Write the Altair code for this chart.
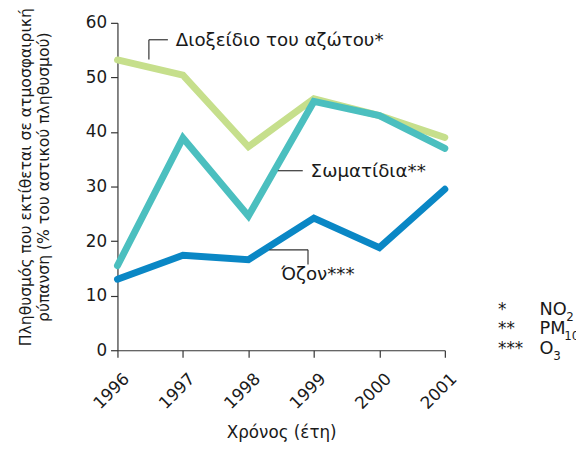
import altair as alt
import pandas as pd

years = [1996, 1997, 1998, 1999, 2000, 2001]
no2 = [53.2, 50.4, 37.3, 46.1, 43.0, 39.0]
pm10 = [15.5, 38.9, 24.6, 45.6, 43.0, 37.0]
o3 = [13.0, 17.4, 16.6, 24.2, 18.8, 29.5]
series_names = ["NO2", "PM10", "O3"]
series_colors = ["#c6df8c", "#4bbfbf", "#0a87c5"]

rows = []
for name, vals in zip(series_names, [no2, pm10, o3]):
    for y, v in zip(years, vals):
        rows.append({"year": y, "value": v, "series": name})
df = pd.DataFrame(rows)

FONT = "DejaVu Sans"
FS = 17

xscale = alt.Scale(domain=[1996, 2001], nice=False)
yscale = alt.Scale(domain=[0, 60], nice=False)

lines = alt.Chart(df).mark_line(strokeWidth=7, strokeCap="round", strokeJoin="miter", clip=False).encode(
    x=alt.X("year:Q", scale=xscale,
            axis=alt.Axis(values=years, format="d", labelAngle=-45, labelAlign="right",
                          labelBaseline="middle", title="Χρόνος (έτη)", grid=False,
                          tickSize=7, labelPadding=19, labelOffset=9, titlePadding=13)),
    y=alt.Y("value:Q", scale=yscale,
            axis=alt.Axis(values=[0, 10, 20, 30, 40, 50, 60], grid=False, tickSize=7,
                          title=["Πληθυσμός που εκτίθεται σε ατμοσφαιρική",
                                 "ρύπανση (% του αστικού πληθυσμού)"],
                          titleFontSize=15.8, titleLineHeight=19,
                          titlePadding=34, titleY=156, labelPadding=4)),
    color=alt.Color("series:N", scale=alt.Scale(domain=series_names, range=series_colors), legend=None),
    order=alt.Order("series:N"),
)

# annotation labels
lab_text = ["Διοξείδιο του αζώτου*", "Σωματίδια**", "Όζον***"]
lab_x = [1996.89, 1998.95, 1998.5]
lab_y = [56.9, 32.9, 13.9]
labels = alt.Chart(pd.DataFrame({"t": lab_text, "x": lab_x, "y": lab_y})).mark_text(
    align="left", baseline="middle", fontSize=18.5, font=FONT, color="#1a1a1a"
).encode(x=alt.X("x:Q", scale=xscale), y=alt.Y("y:Q", scale=yscale), text="t:N")

# leader lines
seg_x = [1996.48, 1996.48, 1998.45, 1998.32, 1998.91]
seg_x2 = [1996.48, 1996.77, 1998.83, 1998.91, 1998.91]
seg_y = [53.3, 56.9, 32.9, 18.4, 18.4]
seg_y2 = [56.9, 56.9, 32.9, 18.4, 15.7]
leaders = alt.Chart(pd.DataFrame({"x": seg_x, "x2": seg_x2, "y": seg_y, "y2": seg_y2})).mark_rule(
    color="#333333", strokeWidth=1.2
).encode(x=alt.X("x:Q", scale=xscale), x2="x2:Q", y=alt.Y("y:Q", scale=yscale), y2="y2:Q")

# footnote
fn_stars = ["*", "**", "***"]
fn_names = ["NO", "PM", "O"]
fn_subs = ["2", "10", "3"]
fn_sub_x = [574, 572, 561]
fn_y = [7.4, 3.8, 0.2]
fn_df = pd.DataFrame({"s": fn_stars, "n": fn_names, "sub": fn_subs, "sx": [v - 119 for v in fn_sub_x], "y": fn_y})
stars = alt.Chart(fn_df).mark_text(align="left", baseline="middle", fontSize=FS, font=FONT, color="#1a1a1a").encode(
    x=alt.value(386), y=alt.Y("y:Q", scale=yscale), text="s:N")
names = alt.Chart(fn_df).mark_text(align="left", baseline="middle", fontSize=18, font=FONT, color="#1a1a1a").encode(
    x=alt.value(428), y=alt.Y("y:Q", scale=yscale), text="n:N")
subs = alt.Chart(fn_df).mark_text(align="left", baseline="middle", fontSize=12, font=FONT, color="#1a1a1a", dy=7).encode(
    x=alt.X("sx:Q", scale=None), y=alt.Y("y:Q", scale=yscale), text="sub:N")

chart = alt.layer(lines, leaders, labels, stars, names, subs).properties(
    width=332, height=332,
    autosize=alt.AutoSizeParams(type="none"),
    padding={"left": 111, "top": 12, "right": 133, "bottom": 90},
).configure_view(stroke=None).configure_axis(
    domainColor="#333333", tickColor="#333333", domainWidth=1.2, tickWidth=1.2,
    labelFont=FONT, titleFont=FONT, labelFontSize=FS, titleFontSize=FS,
    labelColor="#1a1a1a", titleColor="#1a1a1a", titleFontWeight="normal",
)

chart.save("out.html", embed_options={"renderer": "svg", "actions": False})
